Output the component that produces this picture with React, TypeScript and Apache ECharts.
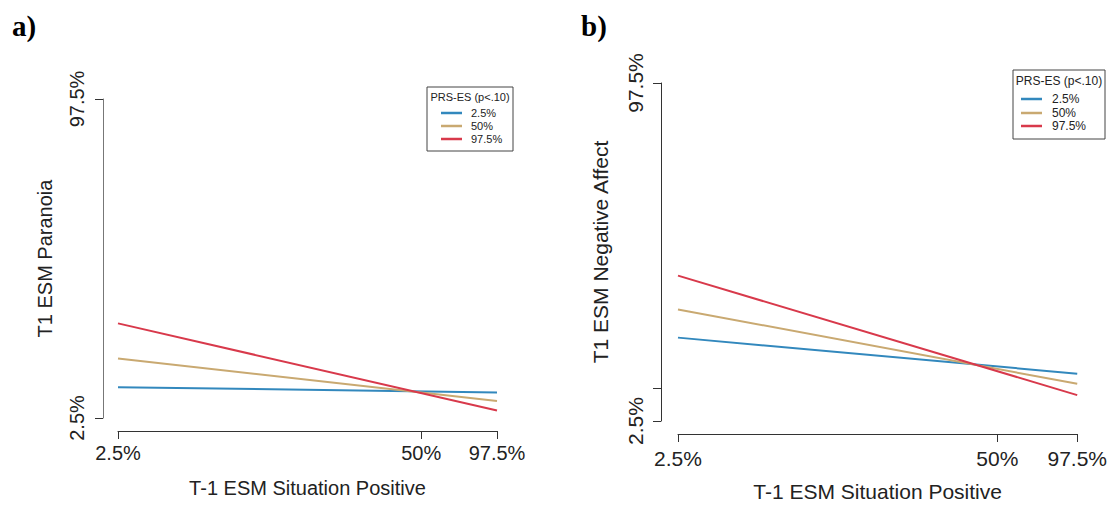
import React, { useEffect, useRef } from "react";
import * as echarts from "echarts";

// ---- data ----
const xTickValues = [1, 5, 6];
const xTickLabels = ["2.5%", "50%", "97.5%"];
const yTickValuesA = [1, 4];
const yTickLabelsA = ["2.5%", "97.5%"];
const yTickValuesB = [1, 1.29, 4];
const yLabelValuesB = [1, 4];
const yTickLabelsB = ["2.5%", "97.5%"];
const groups = ["2.5%", "50%", "97.5%"];
const legendTitle = "PRS-ES (p<.10)";
const xEnds = [1, 6];
// panel a: T1 ESM Paranoia
const paranoiaLow = [1.29, 1.24];
const paranoiaMid = [1.56, 1.16];
const paranoiaHigh = [1.89, 1.07];
// panel b: T1 ESM Negative Affect
const negAffLow = [1.74, 1.42];
const negAffMid = [1.99, 1.33];
const negAffHigh = [2.29, 1.23];

const colors = ["#3288BD", "#C9A971", "#D8394B"];
const FONT = "'Liberation Sans', Arial, sans-serif";

function toPairs(ys: number[]) {
  return xEnds.map((x, i) => [x, ys[i]]);
}

function labelFor(values: number[], labels: string[]) {
  return (v: number) => {
    for (let i = 0; i < values.length; i++) {
      if (Math.abs(values[i] - v) < 1e-6) return labels[i];
    }
    return "";
  };
}

function legendGraphic(
  left: number,
  top: number,
  w: number,
  h: number,
  fs: number,
  titleY: number,
  rows: number[],
  lx1: number,
  lx2: number,
  tx: number
) {
  const els: any[] = [
    {
      type: "rect",
      shape: { x: left, y: top, width: w, height: h },
      style: { fill: "#fff", stroke: "#444", lineWidth: 1 },
    },
    {
      type: "text",
      x: left + w / 2,
      y: titleY,
      style: {
        text: legendTitle,
        font: `${fs}px ${FONT}`,
        fill: "#222",
        align: "center",
        verticalAlign: "middle",
      },
    },
  ];
  groups.forEach((g, i) => {
    els.push({
      type: "line",
      shape: { x1: lx1, y1: rows[i], x2: lx2, y2: rows[i] },
      style: { stroke: colors[i], lineWidth: 2.5 },
    });
    els.push({
      type: "text",
      x: tx,
      y: rows[i],
      style: {
        text: g,
        font: `${fs}px ${FONT}`,
        fill: "#222",
        align: "left",
        verticalAlign: "middle",
      },
    });
  });
  return els;
}

export default function App() {
  const ref = useRef<HTMLDivElement>(null);
  useEffect(() => {
    if (!ref.current) return;
    const chart = echarts.init(ref.current, null, { renderer: "svg" });
    const xAxisCommon = (fs: number, margin: number, gap: number, offset: number, gi: number) => ({
      type: "value",
      gridIndex: gi,
      min: 1,
      max: 6,
      offset,
      name: "T-1 ESM Situation Positive",
      nameLocation: "middle",
      nameGap: gap,
      nameTextStyle: { fontSize: fs, fontFamily: FONT, color: "#222" },
      axisLine: { show: true, lineStyle: { color: "#333", width: 1 } },
      axisTick: { show: true, length: 8, customValues: xTickValues, lineStyle: { color: "#333" } },
      axisLabel: {
        customValues: xTickValues,
        formatter: labelFor(xTickValues, xTickLabels),
        fontSize: fs,
        fontFamily: FONT,
        color: "#222",
        margin,
      },
      splitLine: { show: false },
    });
    const seriesFor = (sets: number[][], gi: number) =>
      sets.map((ys, i) => ({
        type: "line",
        name: groups[i],
        xAxisIndex: gi,
        yAxisIndex: gi,
        data: toPairs(ys),
        symbol: "none",
        lineStyle: { color: colors[i], width: 2 },
        itemStyle: { color: colors[i] },
      }));

    chart.setOption({
      animation: false,
      backgroundColor: "#fff",
      grid: [
        { left: 118, top: 99, width: 379, height: 319 },
        { left: 678, top: 83, width: 401, height: 339 },
      ],
      xAxis: [xAxisCommon(20, 12, 47, 13, 0), xAxisCommon(21, 14, 47, 13, 1)],
      yAxis: [
        {
          type: "value",
          gridIndex: 0,
          min: 1,
          max: 4,
          offset: 15,
          name: "T1 ESM Paranoia",
          nameLocation: "middle",
          nameGap: 48,
          nameTextStyle: { fontSize: 20, fontFamily: FONT, color: "#222" },
          axisLine: { show: true, lineStyle: { color: "#777", width: 1 } },
          axisTick: { show: true, length: 8, customValues: yTickValuesA, lineStyle: { color: "#333" } },
          axisLabel: {
            customValues: yTickValuesA,
            formatter: labelFor(yTickValuesA, yTickLabelsA),
            rotate: 90,
            fontSize: 20,
            fontFamily: FONT,
            color: "#222",
            margin: 16,
          },
          splitLine: { show: false },
        },
        {
          type: "value",
          gridIndex: 1,
          min: 1,
          max: 4,
          offset: 17,
          name: "T1 ESM Negative Affect",
          nameLocation: "middle",
          nameGap: 50,
          nameTextStyle: { fontSize: 21, fontFamily: FONT, color: "#222" },
          axisLine: { show: true, lineStyle: { color: "#333", width: 1 } },
          axisTick: { show: true, length: 8, customValues: yTickValuesB, lineStyle: { color: "#333" } },
          axisLabel: {
            customValues: yLabelValuesB,
            formatter: labelFor(yLabelValuesB, yTickLabelsB),
            rotate: 90,
            fontSize: 21,
            fontFamily: FONT,
            color: "#222",
            margin: 15,
          },
          splitLine: { show: false },
        },
      ],
      series: [
        ...seriesFor([paranoiaLow, paranoiaMid, paranoiaHigh], 0),
        ...seriesFor([negAffLow, negAffMid, negAffHigh], 1),
      ],
      graphic: [
        {
          type: "text",
          x: 12,
          y: 26,
          style: {
            text: "a)",
            font: "bold 29px 'Liberation Serif', 'Times New Roman', serif",
            fill: "#000",
            verticalAlign: "middle",
          },
        },
        {
          type: "text",
          x: 581,
          y: 26,
          style: {
            text: "b)",
            font: "bold 29px 'Liberation Serif', 'Times New Roman', serif",
            fill: "#000",
            verticalAlign: "middle",
          },
        },
        ...legendGraphic(427, 87, 86, 64, 11, 97, [113, 126, 139], 441, 462, 471),
        ...legendGraphic(1013, 70, 92, 69, 12, 81, [99, 113, 126], 1021, 1042, 1052),
      ],
    });
    return () => chart.dispose();
  }, []);
  return (
    <div
      ref={ref}
      style={{ position: "fixed", left: 0, top: 0, width: 1110, height: 507 }}
    />
  );
}
